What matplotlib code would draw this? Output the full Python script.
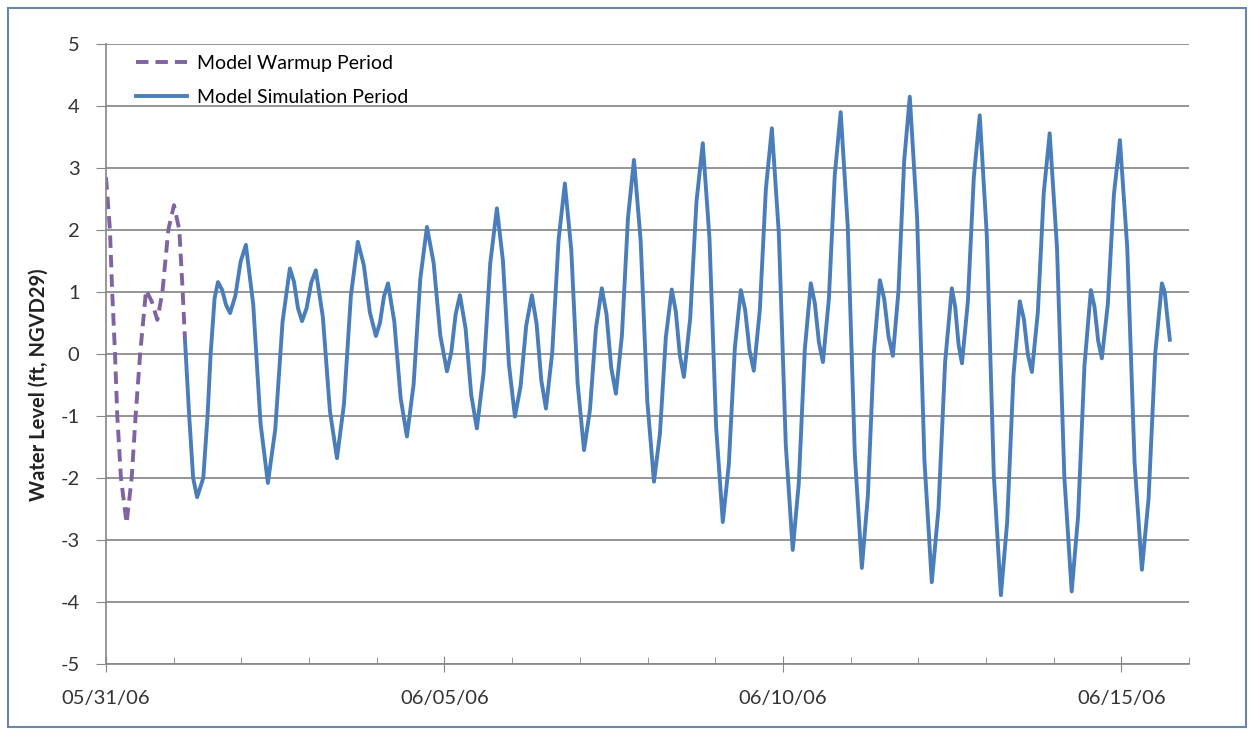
import numpy as np
import pandas as pd
import matplotlib
matplotlib.use("Agg")
import matplotlib.pyplot as plt
import matplotlib.dates as mdates
from matplotlib.patches import Rectangle

plt.rcParams['font.family'] = ['Lato', 'DejaVu Sans']
plt.rcParams['axes.unicode_minus'] = False

# ---- data (hours after 05/31/06 00:00, water level ft NGVD29) ----
start = pd.Timestamp("2006-05-31 00:00")

warmup_hours = [0.0, 1.4, 2.2, 3.2, 4.0, 5.3, 7.3, 9.1, 10.5, 12.1,
                14.2, 16.2, 18.2, 20.0, 22.1, 24.1, 26.0, 27.2, 28.0]
warmup_level = [2.85, 2.0, 1.0, 0.0, -1.0, -2.0, -2.73, -2.0, -1.0, 0.0,
                1.03, 0.85, 0.55, 1.0, 2.0, 2.40, 2.0, 1.0, 0.23]

sim_hours = [28.0, 29.5, 30.9, 32.3, 34.5, 36.0, 37.1, 38.5, 39.7,
             41.13, 42.57, 44.0, 45.87, 47.73, 49.6, 52.2, 54.8, 57.4,
             60.0, 62.6, 65.2, 66.63, 68.07, 69.5, 71.13, 72.77, 74.4,
             76.9, 79.4, 81.9, 84.37, 86.83, 89.3, 91.43, 93.57, 95.7,
             97.13, 98.57, 100.0, 102.23, 104.47, 106.7, 109.07, 111.43, 113.8,
             116.17, 118.53, 120.9, 122.43, 123.97, 125.5, 127.5, 129.5, 131.5,
             133.87, 136.23, 138.6, 140.73, 142.87, 145.0, 147.0, 149.0, 151.0,
             152.67, 154.33, 156.0, 158.23, 160.47, 162.7, 164.97, 167.23, 169.5,
             171.6, 173.7, 175.8, 177.47, 179.13, 180.8, 182.93, 185.07, 187.2,
             189.57, 191.93, 194.3, 196.4, 198.5, 200.6, 202.03, 203.47, 204.9,
             207.13, 209.37, 211.6, 213.97, 216.33, 218.7, 220.83, 222.97, 225.1,
             226.63, 228.17, 229.7, 231.83, 233.97, 236.1, 238.57, 241.03, 243.5,
             245.63, 247.77, 249.9, 251.33, 252.77, 254.2, 256.3, 258.4, 260.5,
             263.0, 265.5, 268.0, 270.13, 272.27, 274.4, 275.93, 277.47, 279.0,
             281.0, 283.0, 285.0, 287.6, 290.2, 292.8, 295.17, 297.53, 299.9,
             301.1, 302.3, 303.5, 305.6, 307.7, 309.8, 312.3, 314.8, 317.3,
             319.53, 321.77, 324.0, 325.43, 326.87, 328.3, 330.4, 332.5, 334.6,
             337.2, 339.8, 342.4, 344.67, 346.93, 349.2, 350.5, 351.8, 353.1,
             355.23, 357.37, 359.5, 362.1, 364.7, 367.3, 369.67, 372.03, 374.4,
             375.4, 376.3, 377.2]
sim_level = [0.23, -1.0, -2.0, -2.31, -2.0, -1.0, 0.0, 0.9, 1.16,
             1.04, 0.79, 0.66, 0.94, 1.49, 1.76, 0.80, -1.12, -2.08,
             -1.22, 0.52, 1.38, 1.17, 0.74, 0.53, 0.74, 1.15, 1.35,
             0.59, -0.92, -1.68, -0.81, 0.94, 1.81, 1.43, 0.67, 0.29,
             0.50, 0.93, 1.14, 0.52, -0.71, -1.33, -0.49, 1.21, 2.05,
             1.47, 0.30, -0.28, 0.03, 0.64, 0.95, 0.41, -0.66, -1.20,
             -0.31, 1.46, 2.35, 1.51, -0.17, -1.01, -0.52, 0.46, 0.95,
             0.49, -0.42, -0.88, 0.03, 1.84, 2.75, 1.68, -0.48, -1.55,
             -0.90, 0.41, 1.06, 0.64, -0.22, -0.64, 0.30, 2.19, 3.13,
             1.83, -0.76, -2.06, -1.29, 0.27, 1.04, 0.69, -0.02, -0.37,
             0.57, 2.46, 3.40, 1.87, -1.18, -2.71, -1.78, 0.10, 1.03,
             0.71, 0.06, -0.27, 0.71, 2.66, 3.64, 1.94, -1.46, -3.16,
             -2.09, 0.07, 1.14, 0.82, 0.19, -0.13, 0.88, 2.89, 3.90,
             2.06, -1.61, -3.45, -2.29, 0.03, 1.19, 0.89, 0.28, -0.03,
             1.02, 3.11, 4.15, 2.19, -1.72, -3.68, -2.50, -0.13, 1.06,
             0.76, 0.15, -0.15, 0.85, 2.85, 3.85, 1.92, -1.96, -3.89,
             -2.71, -0.34, 0.85, 0.57, -0.01, -0.29, 0.67, 2.60, 3.56,
             1.71, -1.98, -3.83, -2.62, -0.19, 1.03, 0.76, 0.21, -0.07,
             0.81, 2.57, 3.45, 1.72, -1.75, -3.48, -2.33, 0.01, 1.14,
             1.0, 0.6, 0.23]

x_tick_dates = ["2006-05-31", "2006-06-05", "2006-06-10", "2006-06-15"]
x_limits = ["2006-05-31", "2006-06-16"]
y_ticks = [-5, -4, -3, -2, -1, 0, 1, 2, 3, 4, 5]

warm_t = start + pd.to_timedelta(warmup_hours, unit="h")
sim_t = start + pd.to_timedelta(sim_hours, unit="h")

fig = plt.figure(figsize=(12.54, 7.29), dpi=100)
fig.patch.set_facecolor("white")
fig.patches.append(Rectangle((8/1254, 2/729), 1 - 16/1254, 1 - 10/729,
                             transform=fig.transFigure, fill=False,
                             edgecolor="#6a88a6", linewidth=1.5))

ax = fig.add_axes([106/1254, 1 - 664/729, (1189 - 106)/1254, (664 - 44)/729])

ax.plot(warm_t, warmup_level, color="#8064A2", linestyle=(0, (3.2, 1.8)),
        linewidth=2.8, label="Model Warmup Period", solid_joinstyle="round",
        dash_joinstyle="round")
ax.plot(sim_t, sim_level, color="#4A7EBB", linewidth=2.8,
        label="Model Simulation Period", solid_joinstyle="round")

ax.set_ylim(-5, 5)
ax.set_yticks(y_ticks)
ax.set_xlim(pd.Timestamp(x_limits[0]), pd.Timestamp(x_limits[1]))
ax.set_xticks([pd.Timestamp(d) for d in x_tick_dates])
ax.xaxis.set_major_formatter(mdates.DateFormatter("%m/%d/%y"))
ax.xaxis.set_minor_locator(mdates.DayLocator())

for s in ["top", "right"]:
    ax.spines[s].set_visible(False)
for s in ["left", "bottom"]:
    ax.spines[s].set_color("#868686")
    ax.spines[s].set_linewidth(1.2)

ax.yaxis.grid(True, color="#8c8c8c", linewidth=1.3)
ax.set_axisbelow(True)

ax.tick_params(axis="y", which="major", direction="out", length=7,
               color="#868686", labelsize=14.5, labelcolor="#333333", pad=12)
ax.tick_params(axis="x", which="major", direction="inout", length=12,
               color="#868686", labelsize=14.5, labelcolor="#333333", pad=13)
ax.tick_params(axis="x", which="minor", direction="in", length=5,
               color="#868686")

ax.set_ylabel("Water Level (ft, NGVD29)", fontsize=14.5, fontweight="bold",
              color="#222222")
ax.yaxis.set_label_coords(-0.0526, 0.45)

leg = ax.legend(loc="upper left", bbox_to_anchor=(0.0115, 1.01), frameon=False,
                fontsize=14, handlelength=2.6, labelspacing=0.85,
                handletextpad=0.55)

fig.savefig("out.png", dpi=100)
